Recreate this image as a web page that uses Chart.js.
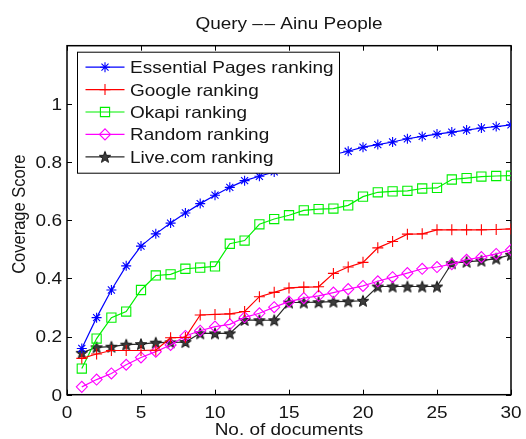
<!DOCTYPE html>
<html>
<head>
<meta charset="utf-8">
<title>Query -- Ainu People</title>
<script src="https://cdn.jsdelivr.net/npm/chart.js@4/dist/chart.umd.min.js"></script>
<style>
  html, body { margin: 0; padding: 0; background: #fff; }
  #wrap { width: 526px; height: 439px; }
</style>
</head>
<body>
<div id="wrap"><canvas id="chart" width="526" height="439"></canvas></div>
<script>
// Number of documents retrieved (x) and coverage score for each ranking method
const docs = [1,2,3,4,5,6,7,8,9,10,11,12,13,14,15,16,17,18,19,20,21,22,23,24,25,26,27,28,29,30];

const essentialScores = [0.159,0.265,0.360,0.443,0.511,0.553,0.590,0.625,0.657,0.686,
                         0.713,0.736,0.751,0.766,0.785,0.801,0.815,0.826,0.837,0.851,
                         0.860,0.869,0.880,0.888,0.896,0.903,0.910,0.917,0.922,0.928];
const googleScores    = [0.125,0.140,0.152,0.152,0.152,0.153,0.196,0.197,0.274,0.276,
                         0.278,0.286,0.337,0.352,0.367,0.370,0.371,0.417,0.439,0.455,
                         0.505,0.527,0.552,0.553,0.567,0.567,0.567,0.567,0.568,0.570];
const okapiScores     = [0.090,0.193,0.265,0.286,0.360,0.410,0.414,0.433,0.437,0.441,
                         0.519,0.530,0.586,0.604,0.617,0.634,0.638,0.640,0.651,0.681,
                         0.696,0.699,0.701,0.709,0.711,0.740,0.745,0.750,0.752,0.753];
const randomScores    = [0.027,0.052,0.073,0.103,0.128,0.148,0.171,0.202,0.220,0.234,
                         0.242,0.266,0.280,0.301,0.320,0.332,0.340,0.351,0.363,0.374,
                         0.390,0.404,0.418,0.433,0.439,0.449,0.464,0.473,0.484,0.498];
const liveScores      = [0.144,0.163,0.165,0.172,0.174,0.179,0.180,0.181,0.211,0.211,
                         0.211,0.257,0.256,0.256,0.317,0.317,0.318,0.320,0.321,0.323,
                         0.372,0.372,0.372,0.372,0.372,0.452,0.457,0.461,0.468,0.481];

const seriesNames = ['Essential Pages ranking','Google ranking','Okapi ranking','Random ranking','Live.com ranking'];

const xTicks = [0,5,10,15,20,25,30];
const yTicks = [0,0.2,0.4,0.6,0.8,1];
const yTickLabels = ['0','0.2','0.4','0.6','0.8','1'];

const FONT = '16.5px "Liberation Sans", Arial, Helvetica, sans-serif';
const TEXT_COLOR = '#141414';
const TEXT_STRETCH = 1.15;   // glyphs are set a little wider than normal

// Draws one line of horizontally widened text
function wideText(ctx, text, x, y, align) {
  ctx.save();
  ctx.translate(x, y);
  ctx.scale(TEXT_STRETCH, 1);
  ctx.font = FONT;
  ctx.fillStyle = TEXT_COLOR;
  ctx.textAlign = align;
  ctx.textBaseline = 'alphabetic';
  ctx.fillText(text, 0, 0);
  ctx.restore();
}

// Filled five-pointed star marker
function makePentagram(size) {
  const c = document.createElement('canvas');
  c.width = size; c.height = size;
  const g = c.getContext('2d');
  const cx = size / 2, cy = size / 2 + 0.6;
  const ro = size / 2 - 1, ri = ro * 0.42;
  g.beginPath();
  for (let i = 0; i < 10; i++) {
    const r = i % 2 === 0 ? ro : ri;
    const a = -Math.PI / 2 + i * Math.PI / 5;
    const px = cx + r * Math.cos(a), py = cy + r * Math.sin(a);
    if (i === 0) g.moveTo(px, py); else g.lineTo(px, py);
  }
  g.closePath();
  g.fillStyle = '#3c3c3c';
  g.fill();
  g.lineWidth = 1;
  g.strokeStyle = '#111';
  g.stroke();
  return c;
}
const starImg = makePentagram(14);

const toPoints = ys => docs.map((x, i) => ({ x: x, y: ys[i] }));

function series(label, ys, color, style, radius) {
  return {
    label: label,
    data: toPoints(ys),
    borderColor: color,
    backgroundColor: 'rgba(0,0,0,0)',
    pointBorderColor: color,
    pointBackgroundColor: 'rgba(0,0,0,0)',
    pointStyle: style,
    pointRadius: radius,
    pointBorderWidth: 1.1,
    borderWidth: 1.2,
    tension: 0,
    fill: false
  };
}

const datasets = [
  series(seriesNames[0], essentialScores, '#0000ff', 'star', 5),
  series(seriesNames[1], googleScores, '#ff0000', 'cross', 5.5),
  series(seriesNames[2], okapiScores, '#00f000', 'rect', 6.5),
  series(seriesNames[3], randomScores, '#ff00ff', 'rectRot', 5.5),
  series(seriesNames[4], liveScores, '#2a2a2a', starImg, 7)
];

// Axes box with inward tick marks on all four sides, tick labels, title and axis labels
const framePlugin = {
  id: 'frame',
  beforeDatasetsDraw(chart) {
    const { ctx, chartArea: a, scales } = chart;
    ctx.save();
    ctx.strokeStyle = '#000';
    ctx.lineWidth = 1;
    const tl = 5;
    ctx.beginPath();
    xTicks.forEach(v => {
      const px = Math.round(scales.x.getPixelForValue(v)) + 0.5;
      ctx.moveTo(px, a.bottom); ctx.lineTo(px, a.bottom - tl);
      ctx.moveTo(px, a.top); ctx.lineTo(px, a.top + tl);
    });
    yTicks.forEach(v => {
      const py = Math.round(scales.y.getPixelForValue(v)) + 0.5;
      ctx.moveTo(a.left, py); ctx.lineTo(a.left + tl, py);
      ctx.moveTo(a.right, py); ctx.lineTo(a.right - tl, py);
    });
    ctx.stroke();
    ctx.lineWidth = 1.5;
    ctx.strokeRect(a.left, a.top, a.right - a.left, a.bottom - a.top);
    ctx.restore();

    xTicks.forEach(v => wideText(ctx, String(v), scales.x.getPixelForValue(v), a.bottom + 23, 'center'));
    yTicks.forEach((v, i) => wideText(ctx, yTickLabels[i], a.left - 5, scales.y.getPixelForValue(v) + 5.8, 'right'));
  },
  afterDraw(chart) {
    const { ctx, chartArea: a } = chart;
    const cx = (a.left + a.right) / 2;
    wideText(ctx, 'Query \u2013\u200A\u2013 Ainu People', cx, 29, 'center');
    wideText(ctx, 'No. of documents', cx, 435, 'center');
    ctx.save();
    ctx.translate(25, (a.top + a.bottom) / 2 - 6);
    ctx.scale(TEXT_STRETCH, 1);
    ctx.rotate(-Math.PI / 2);
    ctx.font = FONT;
    ctx.fillStyle = TEXT_COLOR;
    ctx.textAlign = 'center';
    ctx.textBaseline = 'alphabetic';
    ctx.fillText('Coverage Score', 0, 0);
    ctx.restore();
  }
};

// Boxed legend in the upper-left corner of the plot
const legendPlugin = {
  id: 'boxLegend',
  afterDraw(chart) {
    const { ctx, chartArea: a } = chart;
    const left = a.left + 10.5, top = a.top + 6.5;
    const w = 262, h = 121, rowH = 22.4;
    ctx.save();
    ctx.fillStyle = '#fff';
    ctx.fillRect(left, top, w, h);
    ctx.strokeStyle = '#000';
    ctx.lineWidth = 1;
    ctx.strokeRect(left, top, w, h);
    chart.data.datasets.forEach((ds, i) => {
      const y = top + 15 + i * rowH;
      ctx.strokeStyle = ds.borderColor;
      ctx.lineWidth = ds.borderWidth;
      ctx.beginPath();
      ctx.moveTo(left + 8, y); ctx.lineTo(left + 47, y);
      ctx.stroke();
      const mx = left + 27.5;
      if (ds.pointStyle instanceof HTMLCanvasElement) {
        ctx.drawImage(ds.pointStyle, mx - ds.pointStyle.width / 2, y - ds.pointStyle.height / 2);
      } else {
        ctx.strokeStyle = ds.pointBorderColor;
        ctx.fillStyle = 'rgba(0,0,0,0)';
        ctx.lineWidth = ds.pointBorderWidth;
        Chart.helpers.drawPoint(ctx, { pointStyle: ds.pointStyle, radius: ds.pointRadius, rotation: 0, borderWidth: ds.pointBorderWidth }, mx, y);
      }
      wideText(ctx, ds.label, left + 52.5, y + 6, 'left');
    });
    ctx.restore();
  }
};

new Chart(document.getElementById('chart'), {
  type: 'line',
  data: { datasets: datasets },
  options: {
    responsive: false,
    devicePixelRatio: 1,
    animation: false,
    layout: { padding: { top: 45.7, right: 15, left: 0, bottom: 0 } },
    plugins: { legend: { display: false }, tooltip: { enabled: false }, title: { display: false } },
    scales: {
      x: {
        type: 'linear', min: 0, max: 30,
        grid: { display: false, drawTicks: false },
        border: { display: false },
        ticks: { display: false },
        afterBuildTicks: s => { s.ticks = xTicks.map(v => ({ value: v })); },
        afterFit: s => { s.height = 44.3; }
      },
      y: {
        type: 'linear', min: 0, max: 1.2,
        grid: { display: false, drawTicks: false },
        border: { display: false },
        ticks: { display: false },
        afterBuildTicks: s => { s.ticks = yTicks.map(v => ({ value: v })); },
        afterFit: s => { s.width = 67; }
      }
    }
  },
  plugins: [framePlugin, legendPlugin]
});
</script>
</body>
</html>
